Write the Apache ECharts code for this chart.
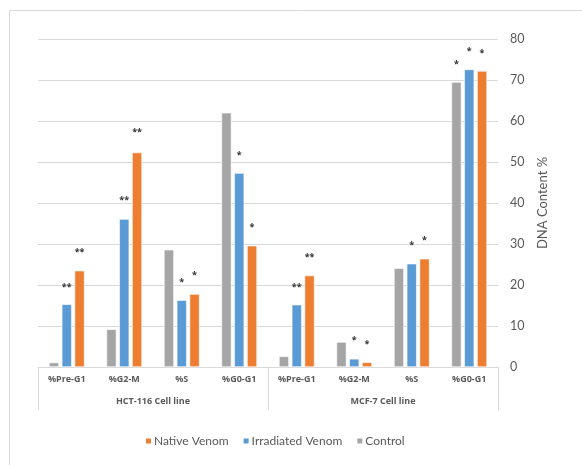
<!DOCTYPE html>
<html><head><meta charset="utf-8">
<script src="https://cdn.jsdelivr.net/npm/echarts@6/dist/echarts.min.js"></script>
<style>html,body{margin:0;padding:0;background:#fff}#c{width:582px;height:465px}</style>
</head><body><div id="c"></div>
<script>
const categories = ['%Pre-G1','%G2-M','%S','%G0-G1','%Pre-G1','%G2-M','%S','%G0-G1'];
const groups = ['HCT-116 Cell line','MCF-7 Cell line'];
const yTicks = [0,10,20,30,40,50,60,70,80];

const control    = [1.1, 9.2, 28.6, 62.0, 2.6, 6.1, 24.1, 69.5];
const irradiated = [15.3, 36.1, 16.3, 47.3, 15.2, 2.0, 25.2, 72.6];
const native     = [23.5, 52.3, 17.8, 29.6, 22.3, 1.15, 26.4, 72.2];

// significance marks and the value level where each mark sits
const controlMarks    = ['', '', '', '', '', '', '', '*'];
const controlMarkAt   = [null, null, null, null, null, null, null, 74.3];
const irradiatedMarks = ['**', '**', '*', '*', '**', '*', '*', '*'];
const irradiatedMarkAt= [20.0, 41.0, 21.0, 52.1, 20.0, 6.9, 30.2, 77.5];
const nativeMarks     = ['**', '**', '*', '*', '**', '*', '*', '*'];
const nativeMarkAt    = [28.4, 57.8, 22.7, 34.5, 27.1, 6.1, 31.4, 77.0];

const FONT = 'Open Sans';
const FONT2 = 'Lato';
const TXT = '#595959';

function visible(name, data, color, stack) {
  return {
    name, type: 'bar', data, stack, barWidth: 10, barGap: '28%',
    itemStyle: { color, borderColor: '#fff', borderWidth: 0.6 },
    emphasis: { disabled: true }
  };
}
function marks(data, marksArr, at, stack) {
  return {
    type: 'bar', stack, barWidth: 10, barGap: '28%', silent: true,
    data: data.map((v, i) => ({
      value: at[i] == null ? 0 : at[i] - v,
      label: { show: !!marksArr[i], formatter: marksArr[i] }
    })),
    itemStyle: { color: 'rgba(0,0,0,0)' },
    label: {
      show: true, position: ['50%', 0], align: 'center', verticalAlign: 'middle',
      fontSize: 9, fontWeight: 'bold', color: '#333', fontFamily: FONT, offset: [0, 2]
    },
    emphasis: { disabled: true }
  };
}

const chart = echarts.init(document.getElementById('c'), null, { renderer: 'canvas' });
chart.setOption({
  animation: false,
  textStyle: { fontFamily: FONT },
  graphic: [{
    type: 'rect', shape: { x: 9.5, y: 10.5, width: 700, height: 600 },
    style: { fill: 'none', stroke: '#d9d9d9', lineWidth: 1 }, silent: true
  }],
  grid: { left: 38, right: 84, top: 39, bottom: 98 },
  legend: {
    data: ['Native Venom', 'Irradiated Venom', 'Control'],
    left: 139, top: 430, itemWidth: 7, itemHeight: 7, itemGap: 13,
    icon: 'rect',
    textStyle: { fontSize: 12, color: TXT, fontFamily: FONT2, padding: [0, 0, 0, -3] }
  },
  xAxis: [{
    type: 'category', data: categories, position: 'bottom',
    axisLine: { show: true, lineStyle: { color: '#d9d9d9', width: 1 } },
    axisTick: { show: false },
    axisLabel: { fontSize: 9, fontWeight: 'bold', color: TXT, margin: 8, interval: 0 }
  }, {
    type: 'category', data: groups, position: 'bottom',
    axisLine: { show: false },
    axisTick: { show: true, length: 43, lineStyle: { color: '#d9d9d9', width: 1 } },
    axisLabel: { fontSize: 9, fontWeight: 'bold', color: TXT, margin: 30 }
  }],
  yAxis: {
    type: 'value', position: 'right', min: 0, max: 80, interval: 10,
    axisLine: { show: false }, axisTick: { show: false },
    axisLabel: { fontSize: 12.5, color: TXT, margin: 12, fontFamily: FONT2,
      formatter: v => yTicks.includes(v) ? String(v) : '' },
    splitLine: { lineStyle: { color: '#d9d9d9', width: 1.2 } },
    name: 'DNA Content %', nameLocation: 'middle', nameRotate: 90, nameGap: 38,
    nameTextStyle: { fontSize: 13, color: TXT, fontFamily: FONT2 }
  },
  series: [
    visible('Control', control, '#A5A5A5', 'c'),
    marks(control, controlMarks, controlMarkAt, 'c'),
    visible('Irradiated Venom', irradiated, '#5B9BD5', 'i'),
    marks(irradiated, irradiatedMarks, irradiatedMarkAt, 'i'),
    visible('Native Venom', native, '#ED7D31', 'n'),
    marks(native, nativeMarks, nativeMarkAt, 'n')
  ]
});
</script></body></html>
